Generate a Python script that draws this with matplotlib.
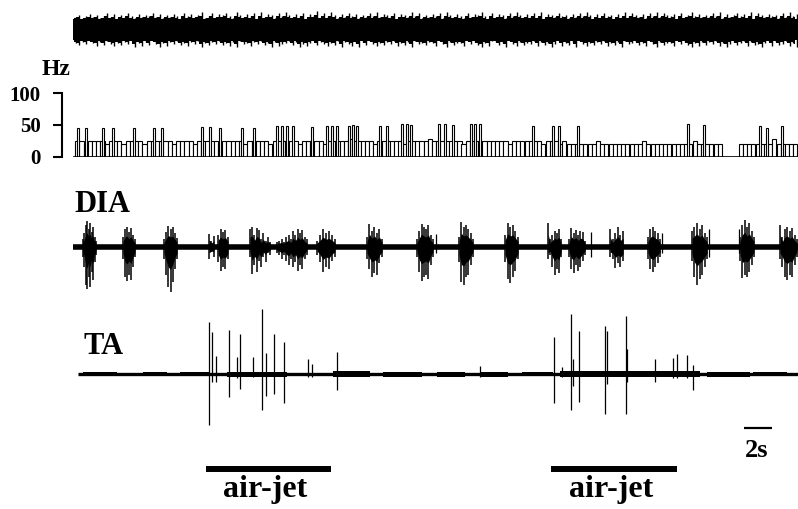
import numpy as np
import matplotlib
matplotlib.use("Agg")
import matplotlib.pyplot as plt

# figure geometry (pixels) and time scale: 2 s = 28 px
W, H = 798, 509
PX_PER_S = 14.0
T0_PX = 73
T_END = (W - T0_PX) / PX_PER_S

FONT = "Liberation Serif"

# ------------------------------------------------------------------
# data (time in s, trace amplitudes in px)
# ------------------------------------------------------------------

# top raw trace: envelope digit every 0.25 s (bigger digit = taller deflection)
TOP_UP = ("2413524136" "2514263152" "4362514253" "1635247136" "2546317425"
          "3617254163" "7425361548" "2637415263" "5142637254" "3615427361"
          "4253617425" "3162547316" "2541637425" "3627154263" "4152637415"
          "2634152736" "4251637264" "3516247352" "4263715246" "3527164253"
          "4162735")
TOP_DN = ("3524136251" "4635241736" "2514736241" "5362417352" "4153627143"
          "6241537264" "3152746315" "2463517246" "3725146352" "4163527143"
          "5236147253" "3614257361" "2537146253" "4162537416" "3527146352"
          "4163527143" "2536147253" "3614257362" "5241637425" "3162547316"
          "2541637")

# rate histogram (Hz): low plateau per 0.3 s bin + narrow tall bars
HIST_LEVELS = {"L": 24, "l": 20, "m": 28, "0": 0}
HIST_LOW = ("LLlLLLLlLL" "LlLLLLlLLL" "LLLlLLLLlL" "LLLLlLLLLL" "lLLLLLlLLL"
            "LLLlLLLLLl" "LLLLLmLLLL" "LlLLLLLLlL" "LLLLmLLLLL" "LLlLLLLLLL"
            "LLLlLLLLLL" "LlLLLlLlll" "llllLlllll" "lllllLllll" "lllllllLll"
            "llll0000ll" "llllllmlll" "ll")
TALL_T = [0.36, 0.93, 2.14, 2.86, 4.36, 5.79, 6.36, 9.21, 9.79, 10.50,
          12.07, 12.93, 14.57, 14.93, 15.29, 15.71, 17.07, 18.14, 18.50, 18.86,
          19.71, 20.00, 20.29, 21.93, 22.43, 23.50, 23.86, 24.14, 26.14, 26.57,
          27.14, 28.43, 28.71, 29.07, 32.86, 34.29, 34.71, 36.07, 43.93, 45.07,
          49.07, 49.57, 50.64]
TALL_HZ = [46, 46, 46, 46, 46, 46, 46, 47, 47, 46,
           46, 46, 48, 48, 48, 48, 47, 48, 48, 48,
           48, 50, 48, 48, 49, 51, 51, 50, 51, 51,
           50, 51, 51, 51, 48, 49, 49, 48, 51, 50,
           49, 46, 48]

# DIA bursts
DIA_START = [0.71, 3.57, 6.50, 9.71, 10.36, 12.64, 14.57, 17.43, 21.00, 24.57,
             27.57, 30.86, 33.93, 35.43, 38.36, 41.07, 44.21, 47.64, 50.50]
DIA_END = [1.64, 4.43, 7.43, 10.07, 11.07, 14.07, 16.71, 18.71, 22.07, 25.71,
           28.57, 31.79, 34.86, 36.57, 39.29, 41.93, 45.29, 48.64, 51.71]
DIA_UP = [[8, 14, 22, 26, 18, 24, 15, 20, 10, 6],
          [10, 18, 20, 15, 19, 12, 8],
          [8, 15, 21, 18, 20, 14, 9],
          [13, 6, 11],
          [12, 18, 15, 17, 10],
          [18, 20, 12, 19, 17, 8, 14, 6, 10, 5],
          [5, 6, 8, 5, 10, 12, 8, 16, 12, 18, 14, 17, 10, 8],
          [6, 12, 18, 14, 16, 12, 8],
          [10, 23, 16, 20, 14, 18, 8],
          [8, 16, 23, 20, 18, 22, 12, 8],
          [10, 25, 20, 22, 18, 14, 8],
          [12, 24, 20, 22, 16, 10],
          [24, 8, 12, 16, 14, 18, 8],
          [8, 19, 14, 17, 12, 16, 15, 6],
          [18, 8, 14, 20, 12, 16],
          [10, 18, 20, 16, 14, 8],
          [16, 20, 24, 18, 22, 14, 10],
          [10, 22, 27, 20, 24, 16, 10],
          [22, 10, 18, 20, 16, 19, 12, 8]]
DIA_DOWN = [[10, 20, 38, 42, 30, 40, 25, 33, 15, 8],
            [12, 30, 34, 28, 33, 20, 10],
            [12, 28, 40, 45, 35, 22, 12],
            [12, 5, 10],
            [15, 24, 20, 22, 12],
            [10, 27, 18, 25, 14, 20, 10, 15, 6, 8],
            [6, 8, 12, 8, 14, 18, 12, 20, 15, 24, 18, 22, 12, 8],
            [8, 15, 25, 20, 22, 14, 10],
            [12, 22, 30, 26, 28, 16, 10],
            [10, 25, 34, 30, 28, 32, 18, 10],
            [15, 35, 38, 30, 28, 18, 10],
            [15, 32, 36, 30, 24, 12],
            [12, 8, 20, 28, 22, 26, 10],
            [10, 22, 26, 18, 24, 20, 14, 8],
            [10, 12, 21, 16, 20, 14],
            [12, 22, 25, 20, 16, 10],
            [14, 30, 38, 32, 28, 20, 12],
            [14, 31, 28, 30, 25, 18, 10],
            [12, 20, 30, 33, 28, 30, 18, 10]]
DIA_SPIKE_T = [25.90, 37.00, 42.07, 45.43, 47.57]
DIA_SPIKE_UP = [13, 15, 14, 18, 18]
DIA_SPIKE_DN = [6, 10, 6, 10, 6]

# TA single units
TA_SPIKE_T = [9.74, 9.93, 10.21, 11.12, 11.69, 11.93, 12.88, 13.48, 13.79, 14.34,
              15.05, 16.81, 17.05, 18.88, 29.07, 34.38, 34.93, 35.59, 35.74, 36.16,
              38.00, 38.12, 39.48, 39.59, 41.57, 42.88, 43.16, 43.88, 44.26]
TA_SPIKE_UP = [52, 42, 18, 44, 17, 40, 17, 65, 21, 40,
               32, 15, 10, 22, 8, 37, 7, 60, 15, 43,
               48, 43, 58, 25, 15, 16, 20, 19, 9]
TA_SPIKE_DN = [51, 8, 8, 23, 4, 15, 3, 36, 22, 20,
               29, 3, 3, 16, 3, 29, 3, 36, 12, 28,
               40, 10, 40, 8, 8, 4, 4, 4, 16]
# TA background activity segments (half-width, px)
TA_FUZZ_START = [0.71, 1.93, 5.00, 7.64, 11.00, 16.21, 18.57, 22.14, 26.00, 29.07,
                 32.07, 34.79, 40.00, 45.29, 48.57]
TA_FUZZ_END = [1.93, 3.14, 6.71, 9.79, 15.29, 17.64, 21.21, 24.93, 28.00, 31.07,
               34.29, 40.00, 44.79, 48.36, 51.00]
TA_FUZZ_AMP = [2, 2, 2, 2, 2.5, 1.5, 3, 2.5, 2.5, 2.5, 2, 3, 3, 2.5, 2]

# stimulus and scale bar
AIRJET_START = [9.50, 34.14]
AIRJET_END = [18.43, 43.14]
SCALE_START = 47.93
SCALE_LEN = 2.0

# ------------------------------------------------------------------
# layout (pixel rows)
# ------------------------------------------------------------------
TOP_Y = 29
DIA_Y = 247
TA_Y = 374
HZ0_Y, HZ100_Y = 156.7, 93.3


def fx(px):
    return px / W


def fy(py):
    return 1 - py / H


fig = plt.figure(figsize=(W / 100, H / 100), dpi=100)
fig.patch.set_facecolor("white")

ax = fig.add_axes([0, 0, 1, 1])
ax.set_xlim(-T0_PX / PX_PER_S, T_END)
ax.set_ylim(H, 0)
ax.axis("off")

# top trace: stepped body plus single deflections
du = np.array([int(c) for c in TOP_UP])
dd = np.array([int(c) for c in TOP_DN])
top_t = 0.1 + 0.25 * np.arange(len(du))
ax.fill_between([0, T_END], TOP_Y - 10, TOP_Y + 11, color="black", lw=0)
ax.fill_between(top_t, TOP_Y - 10 - du * 0.5, TOP_Y + 11 + dd * 0.5, step="mid",
                color="black", lw=0)
ax.vlines(top_t + 0.1, TOP_Y - 10 - du, TOP_Y + 11 + dd, color="black", lw=1.0)

# DIA
ax.plot([0, T_END], [DIA_Y, DIA_Y], color="black", lw=4.0, solid_capstyle="butt")
for s, e, u, d in zip(DIA_START, DIA_END, DIA_UP, DIA_DOWN):
    ts = np.linspace(s, e, len(u))
    u = np.array(u)
    d = np.array(d)
    ax.fill_between(ts, DIA_Y - np.maximum(u * 0.55, 4), DIA_Y + np.maximum(d * 0.5, 4),
                    color="black", lw=0)
    ax.vlines(ts, DIA_Y - u, DIA_Y + d, color="black", lw=1.1)
ax.vlines(DIA_SPIKE_T, DIA_Y - np.array(DIA_SPIKE_UP), DIA_Y + np.array(DIA_SPIKE_DN),
          color="black", lw=0.9)

# TA
ax.plot([0.35, T_END], [TA_Y, TA_Y], color="black", lw=2.4, solid_capstyle="butt")
for s, e, a in zip(TA_FUZZ_START, TA_FUZZ_END, TA_FUZZ_AMP):
    ax.fill_between([s, e], TA_Y - a, TA_Y + a, color="black", lw=0)
ax.vlines(TA_SPIKE_T, TA_Y - np.array(TA_SPIKE_UP), TA_Y + np.array(TA_SPIKE_DN),
          color="black", lw=0.9)

# stimulus bars and scale
for s, e in zip(AIRJET_START, AIRJET_END):
    ax.plot([s, e], [469, 469], color="black", lw=4.3, solid_capstyle="butt")
ax.plot([SCALE_START, SCALE_START + SCALE_LEN], [428, 428], color="black", lw=1.6,
        solid_capstyle="butt")

# histogram panel
hax = fig.add_axes([0, fy(HZ0_Y), 1, (HZ0_Y - HZ100_Y) / H])
hax.set_xlim(ax.get_xlim())
hax.set_ylim(0, 100)
hax.patch.set_alpha(0)
low = [HIST_LEVELS[c] for c in HIST_LOW]
edges = 0.15 + 0.3 * np.arange(len(low))
hax.bar(edges, low, width=0.3, align="edge", facecolor="white", edgecolor="black", lw=0.8)
hax.bar(TALL_T, TALL_HZ, width=0.2, facecolor="white", edgecolor="black", lw=0.8)
hax.plot([0.1, T_END], [0, 0], color="black", lw=1.2)
for side in ["top", "right", "bottom"]:
    hax.spines[side].set_visible(False)
hax.spines["left"].set_position(("data", (62 - T0_PX) / PX_PER_S))
hax.spines["left"].set_linewidth(1.5)
hax.spines["left"].set_bounds(0, 100)
hax.set_xticks([])
hax.set_yticks([0, 50, 100])
hax.tick_params(axis="y", direction="out", length=6.5, width=1.5, pad=9)
for lab in hax.get_yticklabels():
    lab.set_fontfamily(FONT)
    lab.set_fontweight("bold")
    lab.set_fontsize(15)

# labels
bold = dict(fontfamily=FONT, fontweight="bold", color="black")
fig.text(fx(42), fy(75), "Hz", fontsize=17, va="baseline", ha="left", **bold)
fig.text(fx(74), fy(212), "DIA", fontsize=22, va="baseline", ha="left", **bold)
fig.text(fx(83), fy(354), "TA", fontsize=22, va="baseline", ha="left", **bold)
fig.text(fx(757), fy(457), "2s", fontsize=19, va="baseline", ha="center", **bold)
for s, e in zip(AIRJET_START, AIRJET_END):
    xc = T0_PX + (s + e) / 2 * PX_PER_S - 3
    fig.text(fx(xc), fy(497), "air-jet", fontsize=23, va="baseline", ha="center", **bold)

fig.savefig("out.png", dpi=100, facecolor="white")
